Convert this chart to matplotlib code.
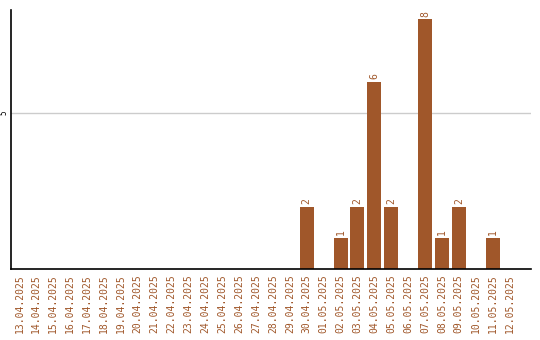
import matplotlib
matplotlib.use("Agg")
import matplotlib.pyplot as plt

dates = ["13.04.2025", "14.04.2025", "15.04.2025", "16.04.2025", "17.04.2025",
         "18.04.2025", "19.04.2025", "20.04.2025", "21.04.2025", "22.04.2025",
         "23.04.2025", "24.04.2025", "25.04.2025", "26.04.2025", "27.04.2025",
         "28.04.2025", "29.04.2025", "30.04.2025", "01.05.2025", "02.05.2025",
         "03.05.2025", "04.05.2025", "05.05.2025", "06.05.2025", "07.05.2025",
         "08.05.2025", "09.05.2025", "10.05.2025", "11.05.2025", "12.05.2025"]
counts = [0, 0, 0, 0, 0, 0, 0, 0, 0, 0, 0, 0, 0, 0, 0, 0, 0,
          2, 0, 1, 2, 6, 2, 0, 8, 1, 2, 0, 1, 0]

BROWN = "#A0572A"

fig = plt.figure(figsize=(5.4, 3.4), dpi=100)
ax = fig.add_axes([11 / 540, 1 - 269 / 340, 520 / 540, 259 / 340])

x = list(range(len(dates)))
ax.bar(x, counts, width=0.83, color=BROWN, zorder=2)
for xi, c in zip(x, counts):
    if c > 0:
        ax.text(xi, c + 0.08, str(c), rotation=90, ha="center", va="bottom",
                fontsize=7, color=BROWN, family="DejaVu Sans Mono")

ax.set_xlim(-0.5, 30.27)
ax.set_ylim(0, 8.3)
ax.set_yticks([5])
ax.set_yticklabels(["5"], rotation=90, va="center", fontsize=5.5, family="DejaVu Sans Mono")
ax.yaxis.grid(True, color="#cccccc", linewidth=1, zorder=0)
ax.tick_params(axis="y", length=0, pad=1.5)
ax.set_xticks(x)
ax.set_xticklabels(dates, rotation=90, fontsize=7, color=BROWN, family="DejaVu Sans Mono")
ax.tick_params(axis="x", length=0, pad=4)

for side in ("top", "right"):
    ax.spines[side].set_visible(False)
ax.spines["left"].set_linewidth(1.2)
ax.spines["bottom"].set_linewidth(1.2)

fig.savefig("out.png", dpi=100)
